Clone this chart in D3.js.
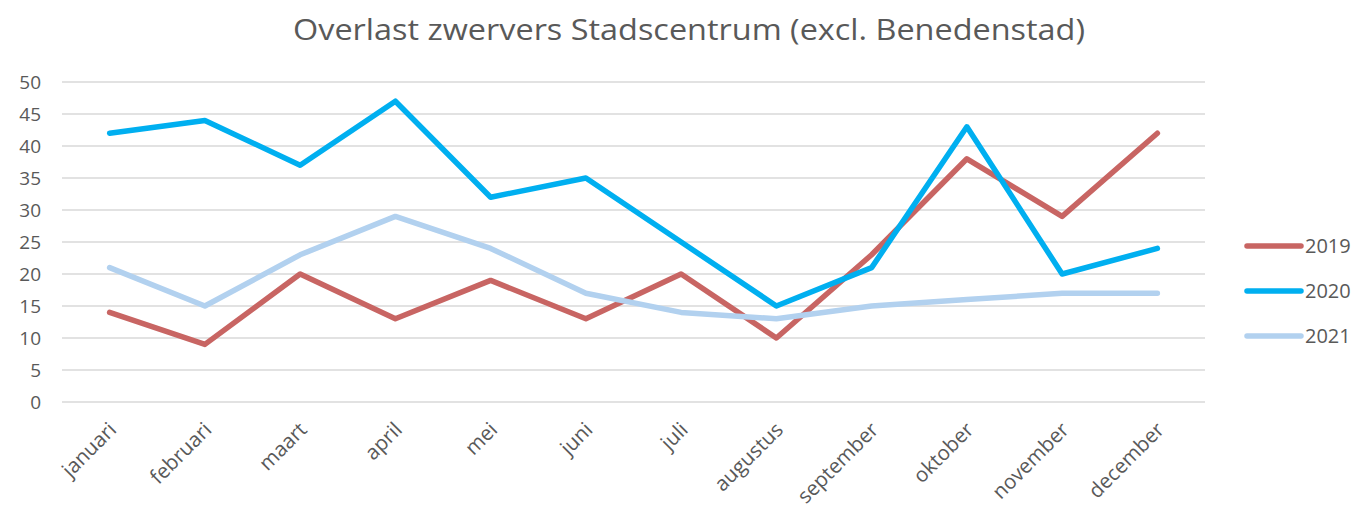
<!DOCTYPE html>
<html>
<head>
<meta charset="utf-8">
<script src="https://cdn.jsdelivr.net/npm/d3@7"></script>
<style>
  body { margin: 0; background: #fff; }
  text { font-family: "Open Sans", "Liberation Sans", sans-serif; fill: #595959; }
</style>
</head>
<body>
<script>
// chart data
var months = ["januari", "februari", "maart", "april", "mei", "juni",
    "juli", "augustus", "september", "oktober", "november", "december"];
var years = ["2019", "2020", "2021"];
var values2019 = [14, 9, 20, 13, 19, 13, 20, 10, 23, 38, 29, 42];
var values2020 = [42, 44, 37, 47, 32, 35, 25, 15, 21, 43, 20, 24];
var values2021 = [21, 15, 23, 29, 24, 17, 14, 13, 15, 16, 17, 17];
var yTicks = [0, 5, 10, 15, 20, 25, 30, 35, 40, 45, 50];
var colors = ["#c86563", "#00aff0", "#b2d1ef"];

window.onload = function(){
    var width = 1355, height = 506;
    var series = [values2019, values2020, values2021];

    var svg = d3.select("body")
        .append("svg")
        .attr("width", width)
        .attr("height", height);

    //scales
    var x = d3.scaleBand()
        .domain(months)
        .range([62, 1205]);

    var y = d3.scaleLinear()
        .domain([0, 50])
        .range([402, 82]);

    //gridlines
    svg.selectAll(".grid")
        .data(yTicks)
        .enter()
        .append("line")
        .attr("class", "grid")
        .attr("x1", 62)
        .attr("x2", 1205)
        .attr("y1", function(d){ return y(d); })
        .attr("y2", function(d){ return y(d); })
        .style("stroke", "#d9d9d9")
        .style("stroke-width", 1.5);

    //y axis labels
    var yAxis = d3.axisLeft(y)
        .tickValues(yTicks)
        .tickSize(0)
        .tickPadding(21);

    var yg = svg.append("g")
        .attr("transform", "translate(62,0)")
        .call(yAxis);
    yg.select(".domain").remove();
    yg.selectAll("text")
        .style("font-size", "19px")
        .style("fill", "#595959")
        .attr("dy", "0.36em");

    //x axis labels
    var xAxis = d3.axisBottom(x)
        .tickSize(0)
        .tickPadding(0);

    var xg = svg.append("g")
        .attr("transform", "translate(0,402)")
        .call(xAxis);
    xg.select(".domain").remove();
    xg.selectAll("text")
        .style("font-size", "20.5px")
        .style("fill", "#595959")
        .attr("text-anchor", "end")
        .attr("dy", 0)
        .attr("y", 0)
        .attr("transform", "translate(8,29) rotate(-45)");

    //lines
    var line = d3.line()
        .x(function(d, i){ return x(months[i]) + x.bandwidth() / 2; })
        .y(function(d){ return y(d); });

    svg.selectAll(".series")
        .data(series)
        .enter()
        .append("path")
        .attr("class", "series")
        .attr("d", line)
        .style("fill", "none")
        .style("stroke", function(d, i){ return colors[i]; })
        .style("stroke-width", 5.5)
        .style("stroke-linejoin", "round")
        .style("stroke-linecap", "round");

    //legend
    var legend = svg.selectAll(".legend")
        .data(years)
        .enter()
        .append("g")
        .attr("class", "legend")
        .attr("transform", function(d, i){
            return "translate(1247," + (246 + i * 45) + ")";
        });

    legend.append("line")
        .attr("x1", 0)
        .attr("x2", 54)
        .style("stroke", function(d, i){ return colors[i]; })
        .style("stroke-width", 5.5)
        .style("stroke-linecap", "round");

    legend.append("text")
        .attr("x", 58)
        .attr("dy", "0.36em")
        .style("font-size", "20px")
        .text(function(d){ return d; });

    //title, squeezed to the reference width
    svg.append("text")
        .attr("text-anchor", "middle")
        .attr("x", 689)
        .attr("y", 40)
        .style("font-size", "29px")
        .attr("textLength", 792)
        .attr("lengthAdjust", "spacingAndGlyphs")
        .text("Overlast zwervers Stadscentrum (excl. Benedenstad)");
};
</script>
</body>
</html>
